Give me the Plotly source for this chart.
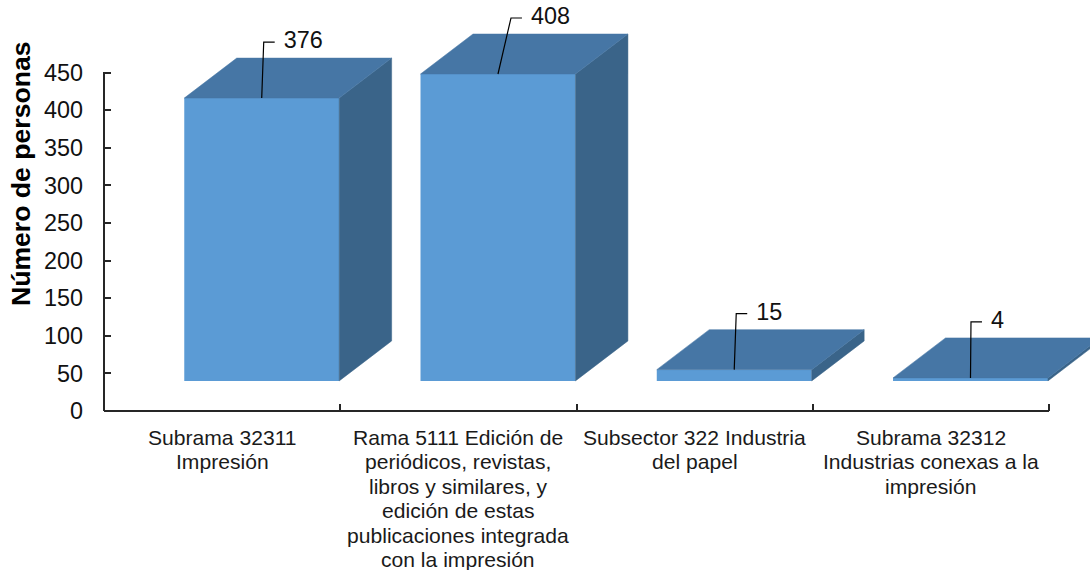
import plotly.graph_objects as go

# Data
category_lines = [
    ["Subrama 32311", "Impresión"],
    ["Rama 5111 Edición de", "periódicos, revistas,", "libros y similares, y", "edición de estas",
     "publicaciones integrada", "con la impresión"],
    ["Subsector 322 Industria", "del papel"],
    ["Subrama 32312", "Industrias conexas a la", "impresión"],
]
values = [376, 408, 15, 4]
y_ticks = [0, 50, 100, 150, 200, 250, 300, 350, 400, 450]
y_title = "Número de personas"

# Style / geometry
FONT = "Liberation Sans, Arial, sans-serif"
W, H = 1090, 570
L, B = 103.5, 159
PX_X = 945.5 / 4                # pixels per category
PX_Y = 338.5 / 450              # pixels per unit
X_MAX = (W - L) / PX_X
Y_MAX = (H - B) / PX_Y
BAR_W = 155 / PX_X
BAR_OFF = 80.3 / PX_X
DEPTH_X = 52.5 / PX_X
DEPTH_Y = 40 / PX_Y
FLOOR = 40
KNEE_Y = 56 / PX_Y
KNEE_DX = [2, 13, 2, 0.5]
STUB = 11 / PX_X
C_FRONT, C_TOP, C_SIDE = "#5B9BD5", "#4676A5", "#3A6489"
C_LINE = "#262626"

fig = go.Figure()
lefts = [i + BAR_OFF for i in range(len(values))]
tops = [FLOOR + v for v in values]


def poly(xs, ys, color):
    fig.add_trace(go.Scatter(x=xs, y=ys, mode="lines", fill="toself", fillcolor=color,
                             line=dict(color=color, width=0.5), cliponaxis=False,
                             hoverinfo="skip", showlegend=False))


for x0, top in zip(lefts, tops):
    x1 = x0 + BAR_W
    poly([x1, x1 + DEPTH_X, x1 + DEPTH_X, x1, x1],
         [FLOOR, FLOOR + DEPTH_Y, top + DEPTH_Y, top, FLOOR], C_SIDE)
    poly([x0, x1, x1 + DEPTH_X, x0 + DEPTH_X, x0],
         [top, top, top + DEPTH_Y, top + DEPTH_Y, top], C_TOP)

fig.add_trace(go.Bar(x=[x + BAR_W / 2 for x in lefts], y=values, base=FLOOR, width=BAR_W,
                     marker=dict(color=C_FRONT, line=dict(width=0)), cliponaxis=False,
                     showlegend=False, hoverinfo="y"))

for x0, top, v, dx in zip(lefts, tops, values, KNEE_DX):
    xc = x0 + BAR_W / 2
    kx = xc + dx / PX_X
    ky = top + KNEE_Y
    fig.add_trace(go.Scatter(x=[xc, kx, kx + STUB], y=[top, ky, ky], mode="lines",
                             line=dict(color="#000000", width=1.2), cliponaxis=False,
                             hoverinfo="skip", showlegend=False))
    fig.add_trace(go.Scatter(x=[kx + STUB + 9 / PX_X], y=[ky - 0.5 / PX_Y], mode="text", text=[str(v)],
                             textposition="middle right",
                             textfont=dict(family=FONT, size=23.4, color="#111111"),
                             cliponaxis=False, hoverinfo="skip", showlegend=False))

annotations = []
for i, lines in enumerate(category_lines):
    for j, line in enumerate(lines):
        annotations.append(dict(x=i + 0.5, xref="x", y=0, yref="paper", yanchor="middle",
                                yshift=-(26 + 24.5 * j), text=line, showarrow=False,
                                font=dict(family=FONT, size=21.1, color="#1a1a1a")))
annotations.append(dict(x=(20.5 - L) / (W - L), xref="paper", xanchor="center",
                        y=(411 - 174) / (H - B), yref="paper", yanchor="middle",
                        text=f"<b>{y_title}</b>", textangle=-90, showarrow=False,
                        font=dict(family=FONT, size=26.6, color="#000000")))

shapes = [
    dict(type="line", xref="paper", yref="y", x0=0, x1=0, y0=-1.3, y1=450.7,
         line=dict(color=C_LINE, width=2)),
    dict(type="line", xref="x", yref="paper", x0=0, x1=4, y0=0, y1=0,
         line=dict(color=C_LINE, width=2)),
]

fig.update_layout(
    width=W, height=H, margin=dict(l=L, r=0, t=0, b=B, autoexpand=False),
    paper_bgcolor="white", plot_bgcolor="white", showlegend=False,
    annotations=annotations, shapes=shapes,
    xaxis=dict(range=[0, X_MAX], tickmode="array", tickvals=[1, 2, 3, 4], ticks="inside", ticklen=7,
               tickwidth=1.5, tickcolor=C_LINE, showticklabels=False, showgrid=False, zeroline=False,
               showline=False),
    yaxis=dict(range=[0, Y_MAX], tickmode="array", tickvals=y_ticks, ticks="inside", ticklen=7,
               tickwidth=1.5, tickcolor=C_LINE, showgrid=False, zeroline=False,
               showline=False, ticklabelstandoff=20,
               tickfont=dict(family=FONT, size=23.4, color="#111111")),
)
fig.write_html("out.html", config=dict(displayModeBar=False),
               post_script="document.body.style.margin='0';document.body.style.overflow='hidden';")
